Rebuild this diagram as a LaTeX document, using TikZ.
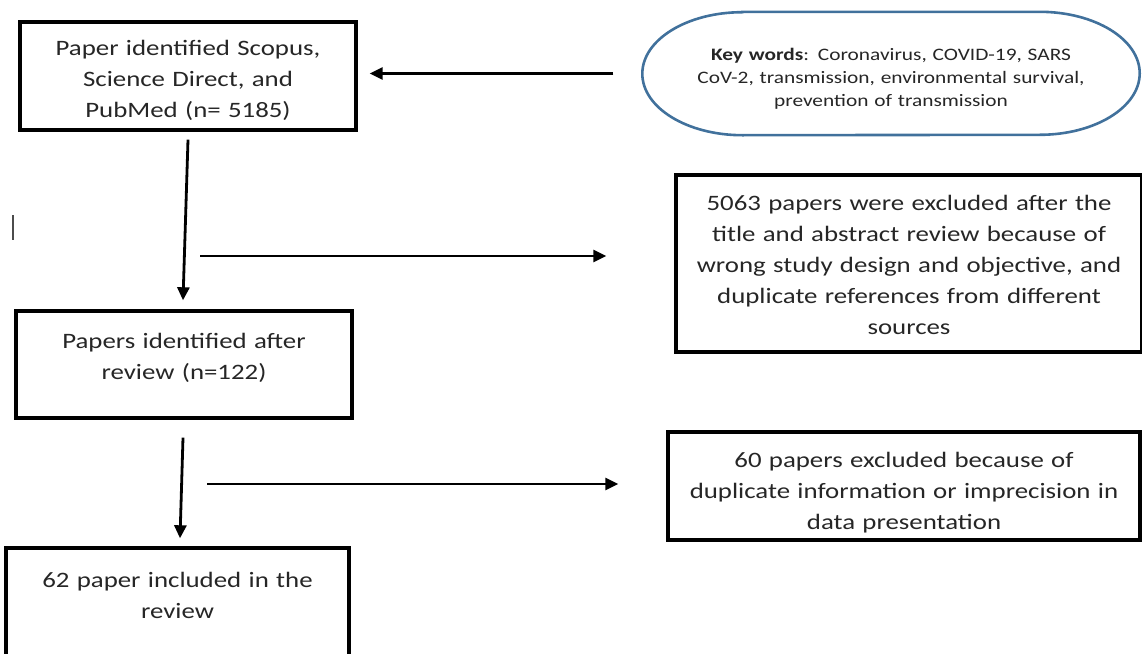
\documentclass[tikz,border=0pt]{standalone}
\usepackage{fontspec}
\setmainfont{Carlito}[FakeStretch=1.22]
\usetikzlibrary{arrows.meta}
\definecolor{kwblue}{HTML}{41719C}
\definecolor{txt}{HTML}{262626}
\newcommand\lowerby[1]{\rule{0pt}{\dimexpr0.75em+#1\relax}}
\tikzset{
  box/.style={draw=black, line width=3.4pt, align=center, text=txt, inner sep=0pt,
    font=\fontsize{22}{31}\selectfont},
  arr/.style={draw=black, line width=2.8pt, -{Triangle[length=13pt,width=12pt]}},
}
\begin{document}
\begin{tikzpicture}[x=1pt,y=-1pt]
\useasboundingbox (0,0) rectangle (1142,653);
\node[box, minimum width=336, minimum height=108, text width=330] (b1) at (188,76)
  {\lowerby{7pt}Paper identified Scopus,\\Science Direct, and\\PubMed (n= 5185)};
\node[minimum width=497, minimum height=123,
  align=center, text=txt, text width=480, inner sep=0pt, font=\fontsize{17.5}{23}\selectfont] (kw) at (891,73.5)
  {\lowerby{9pt}\textbf{Key words}: Coronavirus, COVID-19, SARS\\CoV-2, transmission, environmental survival,\\prevention of transmission};
\draw[kwblue, line width=2.6pt] ([xshift=100pt]kw.north west) -- ([xshift=-100pt]kw.north east)
  arc(-90:90:100 and 61.5) -- ([xshift=100pt]kw.south west)
  arc(90:270:100 and 61.5) -- cycle;
\node[box, minimum width=336, minimum height=107, text width=330] (b2) at (184,364.5)
  {\lowerby{6pt}Papers identified after\\review (n=122)\\[-8pt]\mbox{}};
\node[box, minimum width=466, minimum height=177, text width=460] (b3) at (909,263.5)
  {\lowerby{1pt}5063 papers were excluded after the\\title and abstract review because of\\wrong study design and objective, and\\duplicate references from different\\sources};
\node[box, minimum width=343, minimum height=126, text width=335] (b4) at (177.5,611)
  {62 paper included in the\\review\\\mbox{}};
\node[box, minimum width=472, minimum height=108, text width=465] (b5) at (904,486)
  {\lowerby{12pt}60 papers excluded because of\\duplicate information or imprecision in\\data presentation};
\coordinate (h1) at (200,256);
\coordinate (h2) at (207,484);
\draw[arr] ([xshift=-29pt]kw.west) -- ([xshift=12pt]b1.east |- kw.west);
\draw[arr] ([yshift=-8pt]b1.south) -- ([xshift=-1pt,yshift=9pt]b2.north);
\draw[arr] (h1) -- ([xshift=-68pt]b3.west |- h1);
\draw[arr] ([xshift=-1pt,yshift=-18pt]b2.south) -- ([xshift=2.5pt,yshift=8pt]b4.north);
\draw[arr] (h2) -- ([xshift=-48pt]b5.west |- h2);
\draw[line width=1.3pt, black!70] (13,215) -- (13,240);
\end{tikzpicture}
\end{document}
